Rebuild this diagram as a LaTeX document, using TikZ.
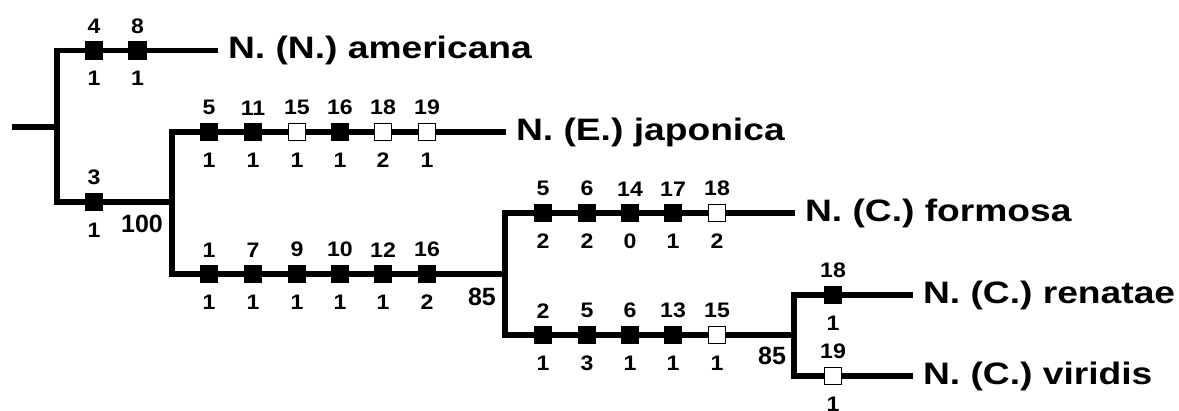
\documentclass[tikz,border=0pt]{standalone}
\usepackage{fontspec}
\setmainfont{Liberation Sans}
\newfontfamily\taxfont[FakeStretch=1.2]{Liberation Sans}
\newfontfamily\numfont[FakeStretch=1.1]{Liberation Sans}
\usepackage{tikz}
\tikzstyle{E} = [line width=5.5pt]
\tikzstyle{S} = [rectangle,draw,fill=black,minimum size=17pt,inner sep=0pt,line width=1.6pt]
\tikzstyle{H} = [S,fill=white]
\tikzstyle{T} = [anchor=west,inner xsep=10pt,inner ysep=0pt,outer sep=0pt,font=\taxfont\bfseries\fontsize{31}{37}\selectfont]
\tikzstyle{U} = [label distance=7.5pt,inner sep=0pt,font=\numfont\bfseries\fontsize{21}{25}\selectfont]
\tikzstyle{D} = [U,label distance=11.5pt]
\tikzstyle{B} = [inner sep=0pt,font=\bfseries\fontsize{25}{30}\selectfont]
\begin{document}
\begin{tikzpicture}[x=1pt,y=-1pt]
	\useasboundingbox (0,0) rectangle (1179,410);
	
	\coordinate (r0) at (12,127);
	\coordinate (n1) at (57,127);
	\coordinate (n2) at (172,202);
	\coordinate (n3) at (505,274);
	\coordinate (n4) at (794,335);
	%%%%%%%%%%%%%%%
	\node [S,label={[U]above:4},label={[D]below:1}] (am1) at (94,50.5) {};
	\node [S,label={[U]above:8},label={[D]below:1}] (am2) at (137.5,50.5) {};
	\node [T] (am) at (218,50.5) {N. (N.) americana};
	\node [S,label={[U]above:3},label={[D]below:1}] (b1) at (94,202) {};
	\node [B] (s1) at (142,224) {100};
	\draw [E] (r0) -- (n1) ;
	\draw [E] (n1) |- (am1) -- (am2) -- (am) ;
	\draw [E] (n1) |- (b1) -- (n2) ;
	%%%%%%%%%%%%%%%
	\node [S,label={[U]above:5},label={[D]below:1}] (ja1) at (209,132) {};
	\node [S,label={[U]above:11},label={[D]below:1}] (ja2) at (253,132) {};
	\node [H,label={[U]above:15},label={[D]below:1}] (ja3) at (297,132) {};
	\node [S,label={[U]above:16},label={[D]below:1}] (ja4) at (340,132) {};
	\node [H,label={[U]above:18},label={[D]below:2}] (ja5) at (383,132) {};
	\node [H,label={[U]above:19},label={[D]below:1}] (ja6) at (427,132) {};
	\node [T] (ja) at (506,132) {N. (E.) japonica};
	\draw [E] (n2) |- (ja1) -- (ja2) -- (ja3) -- (ja4) -- (ja5) -- (ja6) -- (ja) ;
	%----
	\node [S,label={[U]above:1},label={[D]below:1}] (c1) at (209,274) {};
	\node [S,label={[U]above:7},label={[D]below:1}] (c2) at (253,274) {};
	\node [S,label={[U]above:9},label={[D]below:1}] (c3) at (297,274) {};
	\node [S,label={[U]above:10},label={[D]below:1}] (c4) at (340,274) {};
	\node [S,label={[U]above:12},label={[D]below:1}] (c5) at (383,274) {};
	\node [S,label={[U]above:16},label={[D]below:2}] (c6) at (427,274) {};
	\node [B] (s2) at (482,297) {85};
	\draw [E] (n2) |- (c1) -- (c2) -- (c3) -- (c4) -- (c5) -- (c6) -- (n3) ;
	%%%%%%%%%%%%%%%
	\node [S,label={[U]above:5},label={[D]below:2}] (fo1) at (543,213) {};
	\node [S,label={[U]above:6},label={[D]below:2}] (fo2) at (587,213) {};
	\node [S,label={[U]above:14},label={[D]below:0}] (fo3) at (630,213) {};
	\node [S,label={[U]above:17},label={[D]below:1}] (fo4) at (673,213) {};
	\node [H,label={[U]above:18},label={[D]below:2}] (fo5) at (717,213) {};
	\node [T] (fo) at (795,213) {N. (C.) formosa};
	\draw [E] (n3) |- (fo1) -- (fo2) -- (fo3) -- (fo4) -- (fo5) -- (fo) ;
	%----
	\node [S,label={[U]above:2},label={[D]below:1}] (d1) at (543,335) {};
	\node [S,label={[U]above:5},label={[D]below:3}] (d2) at (587,335) {};
	\node [S,label={[U]above:6},label={[D]below:1}] (d3) at (630,335) {};
	\node [S,label={[U]above:13},label={[D]below:1}] (d4) at (673,335) {};
	\node [H,label={[U]above:15},label={[D]below:1}] (d5) at (717,335) {};
	\node [B] (s3) at (772,356) {85};
	\draw [E] (n3) |- (d1) -- (d2) -- (d3) -- (d4) -- (d5) -- (n4) ;
	%%%%%%%%%%%%%%%
	\node [S,label={[U]above:18},label={[D]below:1}] (re1) at (833,295) {};
	\node [T] (re) at (913,295) {N. (C.) renatae};
	\draw [E] (n4) |- (re1) -- (re) ;
	\node [H,label={[U]above:19},label={[D]below:1}] (vi1) at (833,376) {};
	\node [T] (vi) at (913,376) {N. (C.) viridis};
	\draw [E] (n4) |- (vi1) -- (vi) ;
	
\end{tikzpicture}
\end{document}
